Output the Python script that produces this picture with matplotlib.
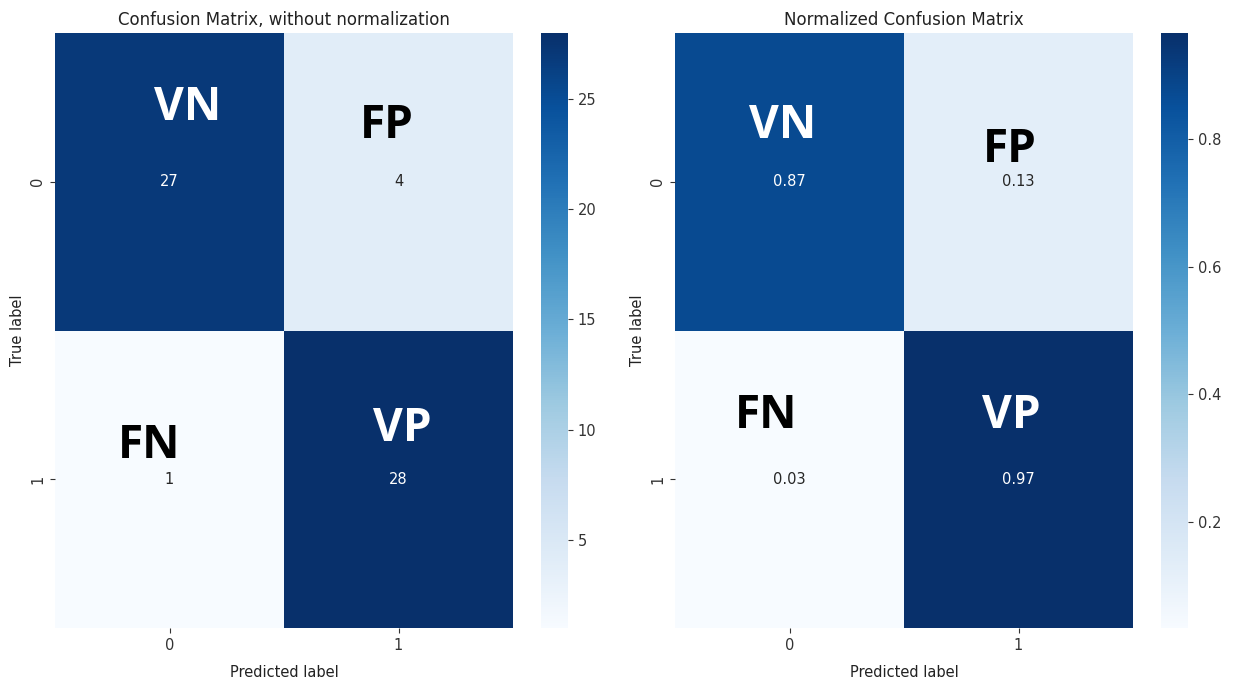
import numpy as np
import matplotlib
matplotlib.use("Agg")
import matplotlib.pyplot as plt
import seaborn as sns

# confusion matrix counts (rows = true label, cols = predicted label)
class_labels = ["0", "1"]
cm_counts = np.array([[27, 4],
                      [1, 28]])
# row-normalized version
cm_norm = cm_counts / cm_counts.sum(axis=1, keepdims=True)

titles = ["Confusion Matrix, without normalization", "Normalized Confusion Matrix"]

fig = plt.figure(figsize=(12.34, 6.78), dpi=100)

W, H = 1234.0, 678.0
def box(x0, x1, y0, y1):
    return [x0 / W, 1 - y1 / H, (x1 - x0) / W, (y1 - y0) / H]

ax1 = fig.add_axes(box(55, 513, 33, 628))
cax1 = fig.add_axes(box(541, 568, 33, 628))
ax2 = fig.add_axes(box(675, 1133, 33, 628))
cax2 = fig.add_axes(box(1161, 1188, 33, 628))

sns.heatmap(cm_counts, annot=True, fmt="d", cmap="Blues", ax=ax1, cbar_ax=cax1,
            xticklabels=class_labels, yticklabels=class_labels,
            annot_kws={"fontsize": 10.5})
sns.heatmap(cm_norm, annot=True, fmt=".2f", cmap="Blues", ax=ax2, cbar_ax=cax2,
            xticklabels=class_labels, yticklabels=class_labels,
            annot_kws={"fontsize": 10.5})

for ax, cax, t in [(ax1, cax1, titles[0]), (ax2, cax2, titles[1])]:
    ax.set_title(t, fontsize=12, color="#222222", pad=6)
    ax.set_xlabel("Predicted label", fontsize=10.5, color="#222222", labelpad=9)
    ax.set_ylabel("True label", fontsize=10.5, color="#222222")
    ax.tick_params(labelsize=10.5, colors="#333333")
    cax.tick_params(labelsize=10.5, colors="#333333")

# big overlay labels (pasted-on annotations in the original)
overlay_font = {"family": "Open Sans", "weight": "bold", "fontsize": 33}
pos1 = {"VN": (0.58, 0.25), "FP": (1.45, 0.31), "FN": (0.41, 1.385), "VP": (1.515, 1.33)}
pos2 = {"VN": (0.47, 0.31), "FP": (1.46, 0.39), "FN": (0.40, 1.285), "VP": (1.47, 1.285)}
colors = {"VN": "white", "FP": "black", "FN": "black", "VP": "white"}
for ax, pos in [(ax1, pos1), (ax2, pos2)]:
    for name, (x, y) in pos.items():
        ax.text(x, y, name, ha="center", va="center", color=colors[name], **overlay_font)

fig.savefig("out.png", dpi=100)
